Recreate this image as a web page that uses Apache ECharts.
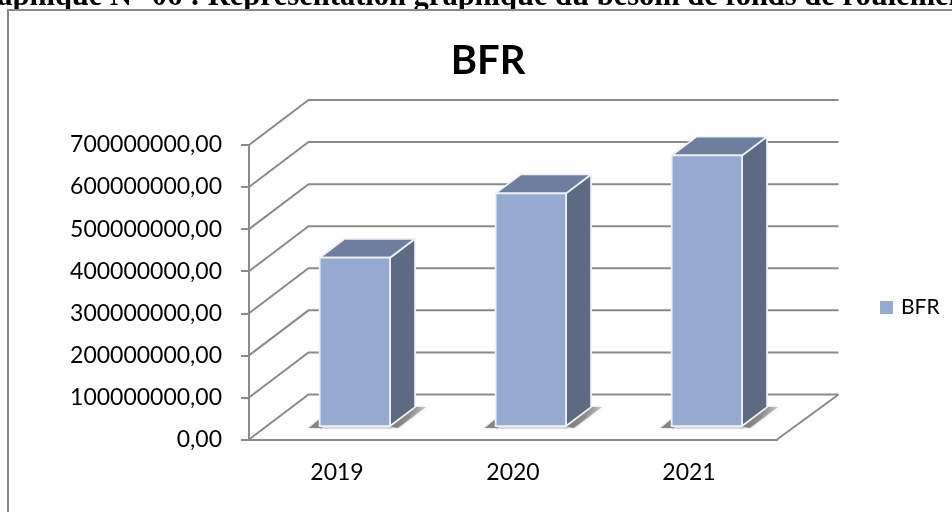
<!DOCTYPE html>
<html><head><meta charset="utf-8">
<style>html,body{margin:0;padding:0;background:#fff}#c{width:952px;height:513px}</style>
<script src="https://cdn.jsdelivr.net/npm/echarts@6/dist/echarts.min.js"></script>
</head><body><div id="c"></div>
<script>
const categories = ['2019','2020','2021'];
const bfrValues = [400000000, 553000000, 643000000];
const yTicks = [0,100000000,200000000,300000000,400000000,500000000,600000000,700000000];
const seriesName = 'BFR';
const pageHeading = 'Graphique N° 06 : Représentation graphique du besoin de fonds de roulement';

const DX = 59.5, DXR = 61.5, DY = 45, T0 = 0.3, T1 = 0.72;
const GRID = '#8A8A8A', FRONT = '#96A9CF', TOP = '#6E7E9E', SIDE = '#5C6A82', EDGE = '#EEF1F7';
const FONT = 'Lato, "Noto Sans", sans-serif';

const chart = echarts.init(document.getElementById('c'), null, {renderer:'canvas'});
const lineStyle = {stroke:GRID, lineWidth:2, fill:null};

function renderWall(params, api){
  const r = params.coordSys, v = api.value(0);
  const y = api.coord([0, v])[1];
  const kids = [{type:'polyline', shape:{points:[[r.x,y],[r.x+DX,y-DY],[r.x+r.width+DXR,y-DY]]}, style:lineStyle}];
  if (v === 0) kids.push({type:'line', shape:{x1:r.x+r.width,y1:y,x2:r.x+r.width+DXR,y2:y-DY}, style:lineStyle});
  return {type:'group', children:kids};
}
function wedgeFill(){
  return {type:'linear',x:0,y:0,x2:1,y2:1,colorStops:[{offset:0,color:'rgba(85,85,85,0.9)'},{offset:0.5,color:'rgba(120,120,120,0.75)'},{offset:1,color:'rgba(190,190,190,0.3)'}]};
}
function renderBar(params, api){
  const i = api.value(0), v = api.value(1);
  const w = api.size([1,0])[0]*0.4;
  const c = api.coord([i,v]), b = api.coord([i,0]);
  const ox = DX*T0, oy = DY*T0, dx = DX*(T1-T0), dy = DY*(T1-T0);
  const l = c[0]-w/2+ox, rt = l+w, t = c[1]-oy, bt = b[1]-oy;
  const edge = {stroke:EDGE, lineWidth:1.75, lineJoin:'round'};
  return {type:'group', children:[
    {type:'polygon', shape:{points:[[rt,bt+1],[rt+dx,bt-dy],[rt+dx+11,bt-dy],[rt+8,bt+2]]},
     style:{fill:wedgeFill(),shadowBlur:3,shadowColor:'rgba(150,150,150,0.6)'}},
    {type:'polygon', shape:{points:[[l-11,bt+2],[l,bt-7],[l+3,bt+2]]},
     style:{fill:'rgba(110,110,110,0.8)',shadowBlur:3,shadowColor:'rgba(150,150,150,0.6)'}},
    {type:'line', shape:{x1:l,y1:bt+2,x2:rt+2,y2:bt+2}, style:{stroke:'rgba(170,170,170,0.6)',lineWidth:1.5}},
    {type:'polygon', shape:{points:[[rt,t],[rt+dx,t-dy],[rt+dx,bt-dy],[rt,bt]]}, style:Object.assign({fill:SIDE},edge)},
    {type:'polygon', shape:{points:[[l,t],[l+dx,t-dy],[rt+dx,t-dy],[rt,t]]}, style:Object.assign({fill:TOP},edge)},
    {type:'rect', shape:{x:l,y:t,width:w,height:bt-t}, style:Object.assign({fill:FRONT},edge)}
  ]};
}

chart.setOption({
  animation:false,
  backgroundColor:'#fff',
  title:{text:seriesName,left:483,top:36,textAlign:'center',textStyle:{fontFamily:FONT,fontSize:40,fontWeight:'bold',color:'#000'}},
  legend:{data:[seriesName],left:875,top:292,icon:'rect',itemWidth:13,itemHeight:13,itemGap:0,textStyle:{fontFamily:FONT,fontSize:21,color:'#000',padding:[0,0,0,3]}},
  grid:{left:249,right:175,top:145,bottom:73.5,containLabel:false},
  xAxis:{type:'category',data:categories,axisLine:{lineStyle:{color:GRID,width:2}},axisTick:{length:8,lineStyle:{color:GRID,width:2}},
    axisLabel:{fontFamily:FONT,fontSize:23,color:'#000',margin:22}},
  yAxis:{type:'value',min:0,max:700000000,interval:100000000,splitLine:{show:false},
    axisLine:{show:true,lineStyle:{color:GRID,width:2}},axisTick:{show:true,length:8,lineStyle:{color:GRID,width:2}},
    axisLabel:{fontFamily:FONT,fontSize:23,color:'#000',margin:27,formatter:v=>v.toFixed(2).replace('.',',')}},
  series:[
    {type:'custom',silent:true,z:1,data:yTicks.map(v=>[v]),encode:{y:0},renderItem:renderWall,legendHoverLink:false,tooltip:{show:false}},
    {type:'custom',name:seriesName,z:3,itemStyle:{color:FRONT},data:bfrValues.map((v,i)=>[i,v]),encode:{x:0,y:1},renderItem:renderBar}
  ],
  graphic:[
    {type:'text',z:-2,style:{text:pageHeading,x:-40,y:-18,font:'bold 30.5px "Liberation Serif"',fill:'#000'}},
    {type:'rect',z:-1,shape:{x:0,y:10,width:952,height:503},style:{fill:'#fff'}},
    {type:'polyline',z:5,shape:{points:[[952,10],[8,10],[8,512]]},style:{stroke:GRID,lineWidth:2,fill:null}}
  ]
});
</script></body></html>
